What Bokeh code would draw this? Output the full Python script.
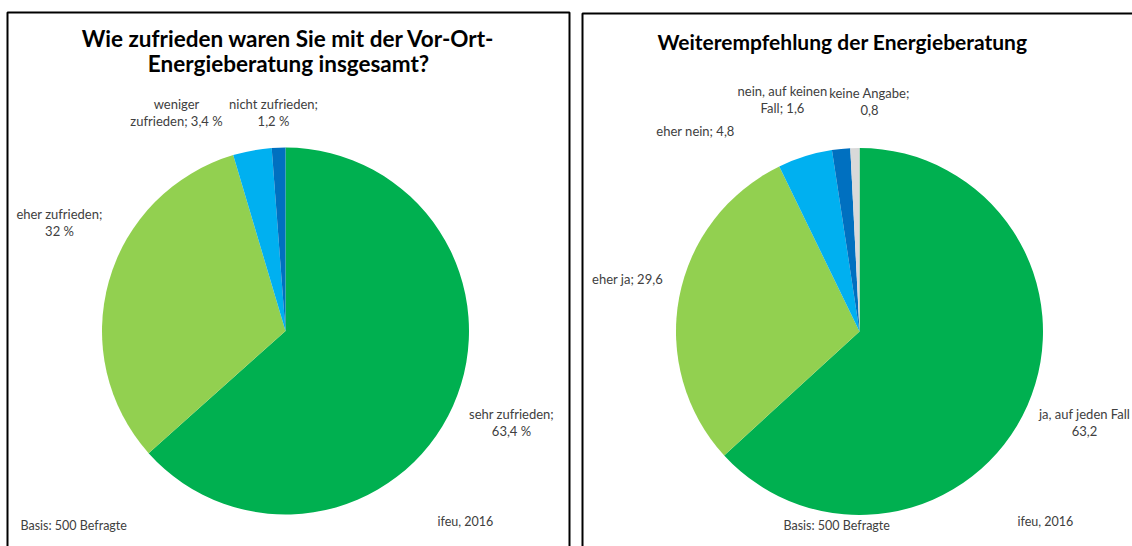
import math
from bokeh.plotting import figure
from bokeh.models import Range1d
from bokeh.core.properties import value
from bokeh.embed import file_html
from bokeh.resources import INLINE

# ---------------- data ----------------
left_title = ["Wie zufrieden waren Sie mit der Vor-Ort-", "Energieberatung insgesamt?"]
left_categories = ["sehr zufrieden", "eher zufrieden", "weniger zufrieden", "nicht zufrieden"]
left_values = [63.4, 32.0, 3.4, 1.2]
left_colors = ["#00B050", "#92D050", "#00B0F0", "#0070C0"]

right_title = ["Weiterempfehlung der Energieberatung"]
right_categories = ["ja, auf jeden Fall", "eher ja", "eher nein", "nein, auf keinen Fall", "keine Angabe"]
right_values = [63.2, 29.6, 4.8, 1.6, 0.8]
right_colors = ["#00B050", "#92D050", "#00B0F0", "#0070C0", "#D9D9D9"]

footer_left = "Basis: 500 Befragte"
footer_right = "ifeu, 2016"


def fmt(v):
    return ("%g" % v).replace(".", ",")


# label lines (how each label wraps)
left_labels = [
    [left_categories[0] + ";", fmt(left_values[0]) + " %"],
    [left_categories[1] + ";", fmt(left_values[1]) + " %"],
    ["weniger", "zufrieden; " + fmt(left_values[2]) + " %"],
    [left_categories[3] + ";", fmt(left_values[3]) + " %"],
]
right_labels = [
    [right_categories[0], fmt(right_values[0])],
    [right_categories[1] + "; " + fmt(right_values[1])],
    [right_categories[2] + "; " + fmt(right_values[2])],
    ["nein, auf keinen", "Fall; " + fmt(right_values[3])],
    [right_categories[4] + ";", fmt(right_values[4])],
]

# ---------------- layout (image pixel coordinates) ----------------
W, H = 1132, 546
FONT = "Lato"
LABEL_COLOR = "#404040"
LINE_H = 17
LABEL_SIZE = "13px"

left_center = (285, 330.5)
right_center = (859, 331)
radius = 183.5

left_label_pos = [(511, 413), (59, 213), (176, 103), (273, 103)]
right_label_pos = [(1084, 413), (627, 278), (695, 130), (782, 90), (869, 92)]


def Y(img_y):
    return H - img_y


p = figure(width=W, height=H, output_backend="svg", toolbar_location=None,
           x_range=Range1d(0, W), y_range=Range1d(0, H),
           min_border=0, match_aspect=False)
p.axis.visible = False
p.grid.visible = False
p.outline_line_color = None
p.background_fill_color = "white"
p.border_fill_color = "white"


def draw_pie(center, values, colors):
    total = sum(values)
    cum = 0.0
    starts, ends = [], []
    for v in values:
        starts.append(math.pi / 2 - 2 * math.pi * cum / total)
        cum += v
        ends.append(math.pi / 2 - 2 * math.pi * cum / total)
    p.wedge(x=[center[0]] * len(values), y=[Y(center[1])] * len(values), radius=radius,
            start_angle=starts, end_angle=ends, direction="clock",
            fill_color=colors, line_color=None)


draw_pie(left_center, left_values, left_colors)
draw_pie(right_center, right_values, right_colors)


def draw_labels(labels, positions):
    xs, ys, ts = [], [], []
    for lines, (cx, cy) in zip(labels, positions):
        for i, t in enumerate(lines):
            xs.append(cx)
            ys.append(Y(cy + i * LINE_H))
            ts.append(t)
    p.text(x=xs, y=ys, text=ts, text_font=value(FONT), text_font_size=LABEL_SIZE,
           text_color=LABEL_COLOR, text_align="center", text_baseline="middle")


draw_labels(left_labels, left_label_pos)
draw_labels(right_labels, right_label_pos)

# titles
p.text(x=[288, 288], y=[Y(38), Y(63)], text=left_title, text_font=value(FONT),
       text_font_size="22.5px", text_font_style="bold", text_color="black",
       text_align="center", text_baseline="middle")
p.text(x=[842], y=[Y(41)], text=right_title, text_font=value(FONT),
       text_font_size="21px", text_font_style="bold", text_color="black",
       text_align="center", text_baseline="middle")

# footers
p.text(x=[20, 783], y=[Y(525), Y(525)], text=[footer_left, footer_left], text_font=value(FONT),
       text_font_size="12.5px", text_color=LABEL_COLOR, text_align="left", text_baseline="middle")
p.text(x=[437, 1017], y=[Y(521), Y(521)], text=[footer_right, footer_right], text_font=value(FONT),
       text_font_size="12.5px", text_color=LABEL_COLOR, text_align="left", text_baseline="middle")

# panel borders
p.multi_line(xs=[[7, 7, 569, 569], [582, 582, 1140]],
             ys=[[Y(560), Y(12), Y(12), Y(560)], [Y(560), Y(13), Y(13)]],
             line_color="black", line_width=2)

open("out.html", "w").write(file_html(p, INLINE))
